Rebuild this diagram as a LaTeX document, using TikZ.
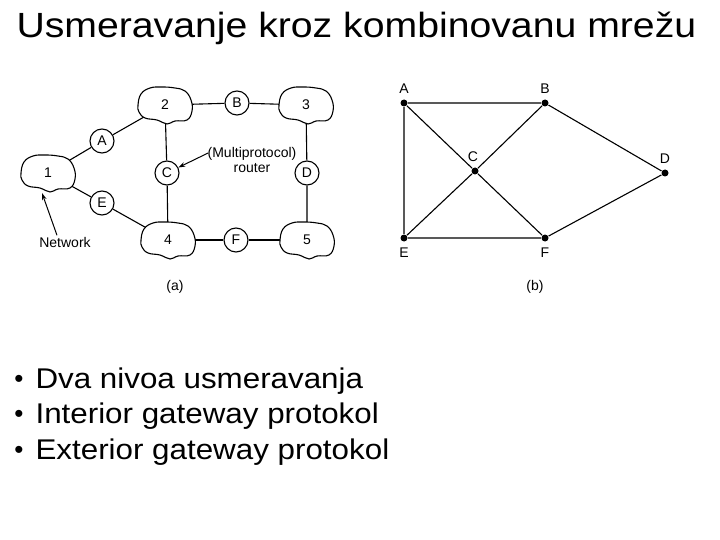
\documentclass[tikz,border=0pt]{standalone}
\usepackage{fontspec}
\setmainfont{Liberation Sans}
\usetikzlibrary{arrows.meta, calc, positioning, shapes.geometric, backgrounds}

\tikzset{
  router/.style={circle, draw, fill=white, minimum size=24pt, inner sep=0pt, font=\fontsize{14}{16}\selectfont},
  netnode/.style={ellipse, minimum width=44pt, minimum height=26pt, inner sep=0pt, font=\fontsize{14}{16}\selectfont},
  blob/.style={draw, fill=white},
  link/.style={line width=1.1pt},
  arr/.style={line width=1pt, -{Stealth[length=7pt,width=4.5pt]}},
  dot/.style={circle, fill, inner sep=0pt, minimum size=7pt},
  lbl/.style={font=\fontsize{14}{15}\selectfont, inner sep=1pt},
  itemfont/.style={font=\fontsize{28.5}{32}\selectfont},
}
\newcommand{\netcloud}[3]{%
  \draw[blob, shift={#2}] plot[smooth cycle, tension=0.7] coordinates
    {(-27,0) (-24,-11) (-15,-17) (-3,-18) (10,-17) (20,-14) (26,-5) (27,6) (22,15) (10,16) (2,19) (-8,15) (-20,13) (-26,7)};
  \node[netnode] (#1) at #2 {#3};
}

\begin{document}
\begin{tikzpicture}[x=1pt, y=-1pt, line width=1.1pt]
  \useasboundingbox (0,0) rectangle (720,540);
  \node[anchor=base west, inner sep=0pt, font=\fontsize{35}{40}\selectfont] (title) at (16,38) {\scalebox{1.12}[1]{Usmeravanje kroz kombinovanu mrežu}};

  % (a) mreze i ruteri
  \netcloud{n1}{(48,173)}{1}
  \netcloud{n2}{(165,105)}{2}
  \netcloud{n3}{(306,105)}{3}
  \netcloud{n4}{(168,240)}{4}
  \netcloud{n5}{(307,240)}{5}
  \node[router] (rA) at (102,141) {A};
  \node[router] (rB) at (237,103) {B};
  \node[router] (rC) at (167,173) {C};
  \node[router] (rD) at (307,173) {D};
  \node[router] (rE) at (102,203) {E};
  \node[router] (rF) at (236,240) {F};
  \begin{scope}[on background layer]
    \draw[link] (n1) -- (rA) -- (n2);
    \draw[link] (n2) -- (rB) -- (n3);
    \draw[link] (n2) -- (rC) -- (n4);
    \draw[link] (n3) -- (rD) -- (n5);
    \draw[link] (n1) -- (rE) -- (n4);
    \draw[link] (n4) -- (rF) -- (n5);
  \end{scope}
  \node[lbl] (netlbl) at (65,242) {Network};
  \coordinate (netpt) at (42,193);
  \draw[arr] ($(netlbl.north)+(-8,0)$) -- (netpt);
  \node[lbl, align=center] (mplbl) at (252,160) {(Multiprotocol)\\router};
  \draw[arr] ($(mplbl.west)+(2,-7)$) -- (rC);
  \node[lbl] (capa) at (175,287) {(a)};

  % (b) graf
  \node[dot] (pA) at (404,103) {};
  \node[dot] (pB) at (545,103) {};
  \node[dot] (pC) at (475,171) {};
  \node[dot] (pD) at (665,173) {};
  \node[dot] (pE) at (404,238) {};
  \node[dot] (pF) at (545,238) {};
  \node[lbl, above=4pt of pA] (lA) {A};
  \node[lbl, above=4pt of pB] (lB) {B};
  \node[lbl, above=4pt of pC, xshift=-2pt] (lC) {C};
  \node[lbl, above=4pt of pD] (lD) {D};
  \node[lbl, below=4pt of pE] (lE) {E};
  \node[lbl, below=4pt of pF] (lF) {F};
  \draw[link] (pA) -- (pB) -- (pD) -- (pF) -- (pE) -- (pA);
  \draw[link] (pA) -- (pC) -- (pF);
  \draw[link] (pB) -- (pC) -- (pE);
  \node[lbl] (capb) at (535,287) {(b)};

  \foreach \i/\y/\txt in {1/388/Dva nivoa usmeravanja, 2/423/Interior gateway protokol, 3/459/Exterior gateway protokol}{
    \node[font=\fontsize{26}{26}\selectfont, anchor=base, inner sep=0pt] (bul\i) at (19,\y-1) {•};
    \node[itemfont, anchor=base west, inner sep=0pt] (item\i) at (35,\y) {\scalebox{1.1}[1]{\txt}};
  }
\end{tikzpicture}
\end{document}
